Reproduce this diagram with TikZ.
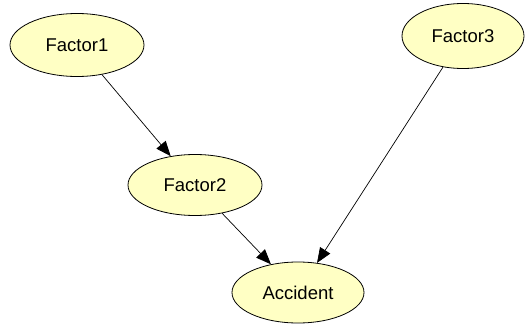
\documentclass[tikz,border=0pt]{standalone}
\usepackage{fontspec}
\setmainfont{Liberation Sans}
\usepackage{tikz}
\usetikzlibrary{arrows.meta, shapes.geometric}
\definecolor{factorfill}{HTML}{FFFFC4}

\begin{document}
\begin{tikzpicture}[
  x=1pt, y=-1pt,
  every node/.style={font=\fontsize{18.5}{20}\selectfont, align=center},
  factor/.style={ellipse, draw=black, fill=factorfill, line width=0.8pt,
                 minimum width=134pt, minimum height=63pt, inner sep=0pt},
  arr/.style={-{Triangle[length=15pt, width=12pt]}, line width=0.7pt}
]
  \useasboundingbox (0,0) rectangle (525,324);

  % --- Factors ---
  \node[factor] (f1) at (77, 45) {Factor1};
  \node[factor, minimum width=122pt, minimum height=65pt] (f3) at (463, 36) {Factor3};
  \node[factor, minimum height=61pt] (f2) at (195, 185) {Factor2};

  % --- Outcome ---
  \node[factor, minimum width=132pt, minimum height=61pt] (acc) at (298, 292.5) {Accident};

  % --- Arrows ---
  \draw[arr] (f1) -- (f2);
  \draw[arr] (f2) -- (acc);
  \draw[arr] (f3) -- (acc);

\end{tikzpicture}
\end{document}
